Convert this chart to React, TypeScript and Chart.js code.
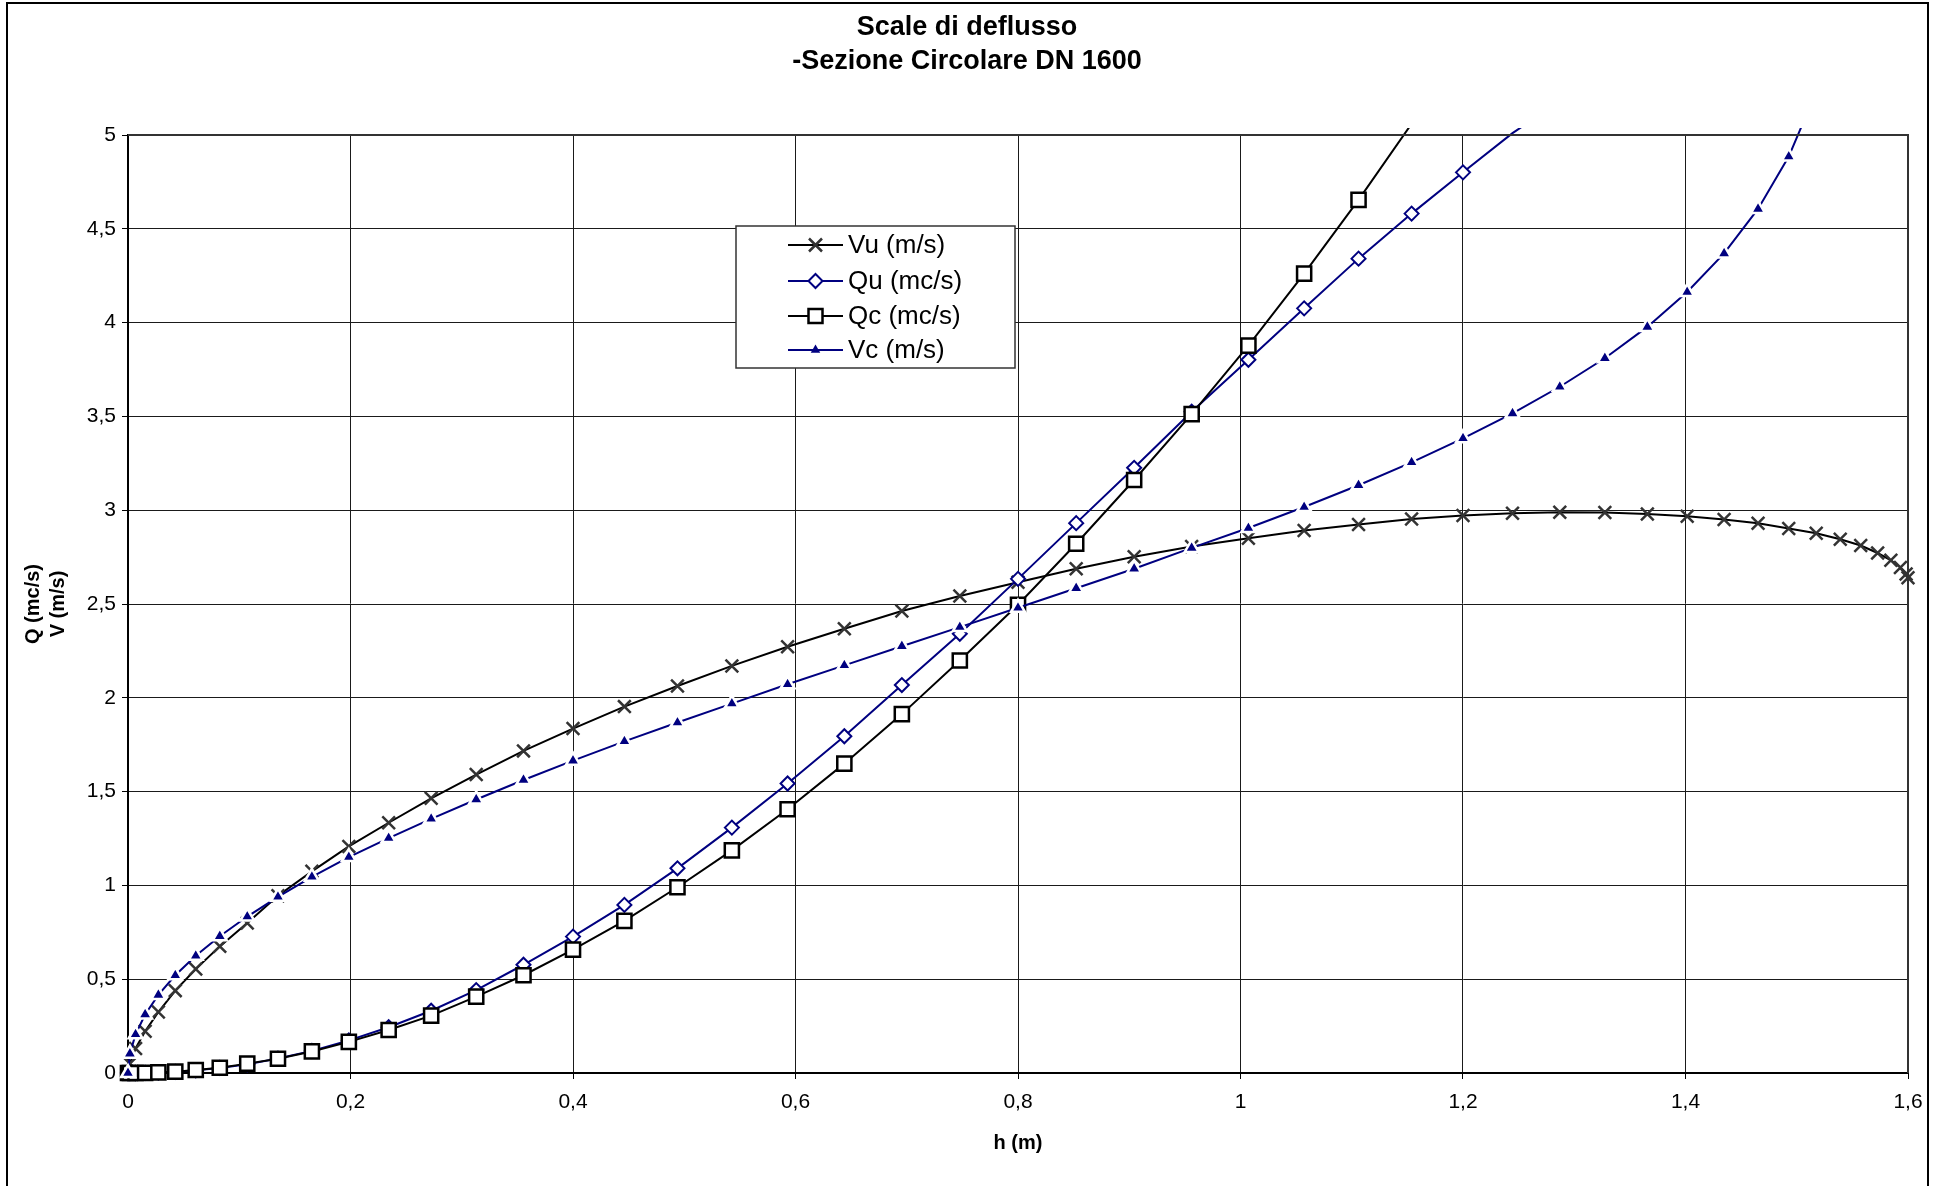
import React, { useEffect, useRef } from 'react';
import { Chart, registerables } from 'chart.js';

Chart.register(...registerables);

const titleLines = ['Scale di deflusso', '-Sezione Circolare DN 1600'];
const xAxisTitle = 'h (m)';
const yAxisTitleLines = ['Q (mc/s)', 'V (m/s)'];
const seriesNames = ['Vu (m/s)', 'Qu (mc/s)', 'Qc (mc/s)', 'Vc (m/s)'];

const xTickValues = [0, 0.2, 0.4, 0.6, 0.8, 1, 1.2, 1.4, 1.6];
const yTickValues = [0, 0.5, 1, 1.5, 2, 2.5, 3, 3.5, 4, 4.5, 5];

// h (m) : water depth of each computed point
const hValues = [
  0, 0.0017, 0.0068, 0.0154, 0.0273, 0.0425, 0.0609, 0.0825, 0.1072, 0.1348,
  0.1653, 0.1985, 0.2343, 0.2725, 0.313, 0.3555, 0.4, 0.4462, 0.4939, 0.5428,
  0.5929, 0.6439, 0.6956, 0.7477, 0.8, 0.8523, 0.9044, 0.9561, 1.0071, 1.0572,
  1.1061, 1.1538, 1.2, 1.2445, 1.287, 1.3275, 1.3657, 1.4015, 1.4347, 1.4652,
  1.4928, 1.5175, 1.5391, 1.5575, 1.5727, 1.5846, 1.5932, 1.5983, 1.6,
];

const vuValues = [
  0, 0.05, 0.131, 0.222, 0.325, 0.439, 0.554, 0.675, 0.8, 0.945,
  1.075, 1.208, 1.334, 1.464, 1.591, 1.717, 1.836, 1.953, 2.063, 2.17,
  2.272, 2.368, 2.463, 2.543, 2.616, 2.688, 2.752, 2.806, 2.85, 2.892,
  2.924, 2.953, 2.972, 2.984, 2.989, 2.988, 2.98, 2.968, 2.95, 2.93,
  2.903, 2.877, 2.845, 2.812, 2.772, 2.733, 2.695, 2.66, 2.64,
];

const quValues = [
  0, 0, 0.0001, 0.0007, 0.0024, 0.0064, 0.014, 0.027, 0.046, 0.077,
  0.118, 0.174, 0.244, 0.332, 0.442, 0.577, 0.727, 0.896, 1.091, 1.308,
  1.543, 1.795, 2.068, 2.341, 2.634, 2.931, 3.226, 3.525, 3.802, 4.076,
  4.341, 4.581, 4.801, 5.01, 5.18,
];

const qcValues = [
  0, 0, 0.0002, 0.001, 0.003, 0.007, 0.016, 0.028, 0.05, 0.076,
  0.115, 0.166, 0.229, 0.306, 0.407, 0.521, 0.658, 0.811, 0.99, 1.187,
  1.406, 1.649, 1.913, 2.199, 2.496, 2.821, 3.161, 3.512, 3.877, 4.261,
  4.654, 5.06,
];

const vcValues = [
  0, 0.103, 0.206, 0.312, 0.416, 0.521, 0.625, 0.729, 0.834, 0.939,
  1.046, 1.151, 1.252, 1.355, 1.458, 1.562, 1.665, 1.768, 1.868, 1.969,
  2.072, 2.173, 2.275, 2.377, 2.48, 2.584, 2.688, 2.799, 2.905, 3.017,
  3.133, 3.255, 3.383, 3.516, 3.658, 3.81, 3.977, 4.163, 4.369, 4.606,
  4.885, 5.23,
];

const FONT = '"Liberation Sans", Arial, Helvetica, sans-serif';
const NAVY = '#000080';
const Y_MAX = 5;

const fmt = (v: number) => String(Math.round(v * 10) / 10).replace('.', ',');
const toPoints = (ys: number[]) => ys.map((y, i) => ({ x: hValues[i], y }));
const hideAbove = (r: number) => (c: any) => (c.raw && c.raw.y > Y_MAX ? 0 : r);

function drawCross(ctx: CanvasRenderingContext2D, x: number, y: number) {
  ctx.save();
  ctx.strokeStyle = '#333';
  ctx.lineWidth = 2.5;
  const d = 6.5;
  ctx.beginPath();
  ctx.moveTo(x - d, y - d);
  ctx.lineTo(x + d, y + d);
  ctx.moveTo(x + d, y - d);
  ctx.lineTo(x - d, y + d);
  ctx.stroke();
  ctx.restore();
}
function drawDiamond(ctx: CanvasRenderingContext2D, x: number, y: number) {
  ctx.save();
  const r = 7;
  ctx.beginPath();
  ctx.moveTo(x - r, y);
  ctx.lineTo(x, y - r);
  ctx.lineTo(x + r, y);
  ctx.lineTo(x, y + r);
  ctx.closePath();
  ctx.fillStyle = '#fff';
  ctx.fill();
  ctx.strokeStyle = NAVY;
  ctx.lineWidth = 2;
  ctx.stroke();
  ctx.restore();
}
function drawSquare(ctx: CanvasRenderingContext2D, x: number, y: number) {
  ctx.save();
  const s = 7;
  ctx.fillStyle = '#fff';
  ctx.fillRect(x - s, y - s, 2 * s, 2 * s);
  ctx.strokeStyle = '#000';
  ctx.lineWidth = 2.5;
  ctx.strokeRect(x - s, y - s, 2 * s, 2 * s);
  ctx.restore();
}
function drawTriangle(ctx: CanvasRenderingContext2D, x: number, y: number) {
  ctx.save();
  const r = 5.5;
  ctx.beginPath();
  ctx.moveTo(x, y - r);
  ctx.lineTo(x + r * 0.866, y + r * 0.5);
  ctx.lineTo(x - r * 0.866, y + r * 0.5);
  ctx.closePath();
  ctx.fillStyle = NAVY;
  ctx.fill();
  ctx.restore();
}

const decorPlugin = {
  id: 'decor',
  beforeDraw(chart: any) {
    const ctx = chart.ctx as CanvasRenderingContext2D;
    ctx.save();
    ctx.fillStyle = '#fff';
    ctx.fillRect(0, 0, chart.width, chart.height);
    ctx.restore();
  },
  afterDraw(chart: any) {
    const ctx = chart.ctx as CanvasRenderingContext2D;
    const a = chart.chartArea;
    ctx.save();

    // plot area top & right border
    ctx.strokeStyle = '#333';
    ctx.lineWidth = 2;
    ctx.beginPath();
    ctx.moveTo(a.left, a.top);
    ctx.lineTo(a.right, a.top);
    ctx.lineTo(a.right, a.bottom);
    ctx.stroke();

    // chart outer border
    ctx.strokeStyle = '#000';
    ctx.lineWidth = 2;
    ctx.strokeRect(7, 3, 1921, 1200);

    // title
    ctx.fillStyle = '#000';
    ctx.textAlign = 'center';
    ctx.textBaseline = 'middle';
    ctx.font = `bold 27px ${FONT}`;
    ctx.fillText(titleLines[0], 967, 28);
    ctx.fillText(titleLines[1], 967, 62);

    // x axis title
    ctx.font = `bold 20px ${FONT}`;
    ctx.fillText(xAxisTitle, (a.left + a.right) / 2, 1143);

    // y axis title (rotated)
    ctx.font = `bold 20px ${FONT}`;
    const yc = (a.top + a.bottom) / 2;
    [33, 58].forEach((x, i) => {
      ctx.save();
      ctx.translate(x, yc);
      ctx.rotate(-Math.PI / 2);
      ctx.fillText(yAxisTitleLines[i], 0, 0);
      ctx.restore();
    });

    // legend
    const lx = 736, ly = 226, lw = 279, lh = 142;
    ctx.fillStyle = '#fff';
    ctx.fillRect(lx, ly, lw, lh);
    ctx.strokeStyle = '#333';
    ctx.lineWidth = 1.5;
    ctx.strokeRect(lx, ly, lw, lh);
    const rows = [245, 281, 316, 350];
    const lineColors = ['#000', NAVY, '#000', NAVY];
    const markers = [drawCross, drawDiamond, drawSquare, drawTriangle];
    rows.forEach((ry, i) => {
      ctx.strokeStyle = lineColors[i];
      ctx.lineWidth = 2;
      ctx.beginPath();
      ctx.moveTo(788, ry);
      ctx.lineTo(843, ry);
      ctx.stroke();
      markers[i](ctx, 815.5, ry);
      ctx.fillStyle = '#000';
      ctx.textAlign = 'left';
      ctx.textBaseline = 'middle';
      ctx.font = `26px ${FONT}`;
      ctx.fillText(seriesNames[i], 848, ry + 1);
    });

    ctx.restore();
  },
};

export default function App() {
  const canvasRef = useRef<HTMLCanvasElement | null>(null);

  useEffect(() => {
    const canvas = canvasRef.current;
    if (!canvas) return;
    const clip = { left: 12, top: 7, right: 12, bottom: 12 };
    const chart = new Chart(canvas, {
      type: 'line',
      data: {
        datasets: [
          {
            label: seriesNames[0],
            data: toPoints(vuValues),
            borderColor: '#000',
            borderWidth: 2,
            pointStyle: 'crossRot',
            pointRadius: hideAbove(9),
            pointBorderColor: '#333',
            pointBorderWidth: 2.5,
            pointBackgroundColor: 'transparent',
            tension: 0,
            clip,
            order: 3,
          },
          {
            label: seriesNames[1],
            data: toPoints(quValues),
            borderColor: NAVY,
            borderWidth: 2,
            pointStyle: 'rectRot',
            pointRadius: hideAbove(7),
            pointBorderColor: NAVY,
            pointBorderWidth: 2,
            pointBackgroundColor: '#fff',
            tension: 0,
            clip,
            order: 2,
          },
          {
            label: seriesNames[2],
            data: toPoints(qcValues),
            borderColor: '#000',
            borderWidth: 2,
            pointStyle: 'rect',
            pointRadius: hideAbove(10),
            pointBorderColor: '#000',
            pointBorderWidth: 2.5,
            pointBackgroundColor: '#fff',
            tension: 0,
            clip,
            order: 1,
          },
          {
            label: seriesNames[3],
            data: toPoints(vcValues),
            borderColor: NAVY,
            borderWidth: 2,
            pointStyle: 'triangle',
            pointRadius: hideAbove(8),
            pointBorderColor: '#fff',
            pointBorderWidth: 2.5,
            pointBackgroundColor: NAVY,
            tension: 0,
            clip,
            order: 0,
          },
        ],
      },
      options: {
        responsive: false,
        animation: false,
        devicePixelRatio: 1,
        layout: { padding: { left: 0, top: 135, right: 33, bottom: 0 } },
        plugins: {
          legend: { display: false },
          title: { display: false },
          tooltip: { enabled: false },
        },
        scales: {
          x: {
            type: 'linear',
            min: 0,
            max: 1.6,
            afterBuildTicks: (axis: any) => {
              axis.ticks = xTickValues.map((v) => ({ value: v }));
            },
            afterFit: (scale: any) => {
              scale.height = 113;
            },
            ticks: {
              callback: (v: any) => fmt(Number(v)),
              color: '#000',
              font: { family: FONT, size: 21 },
              padding: 11,
              maxRotation: 0,
              autoSkip: false,
            },
            grid: { color: '#1a1a1a', lineWidth: 1, tickLength: 6, tickColor: '#000' },
            border: { color: '#000', width: 2 },
          },
          y: {
            type: 'linear',
            min: 0,
            max: Y_MAX,
            afterBuildTicks: (axis: any) => {
              axis.ticks = yTickValues.map((v) => ({ value: v }));
            },
            afterFit: (scale: any) => {
              scale.width = 128;
            },
            ticks: {
              callback: (v: any) => fmt(Number(v)),
              color: '#000',
              font: { family: FONT, size: 21 },
              padding: 6,
              autoSkip: false,
            },
            grid: { color: '#1a1a1a', lineWidth: 1, tickLength: 6, tickColor: '#000' },
            border: { color: '#000', width: 2 },
          },
        },
      },
      plugins: [decorPlugin],
    } as any);
    return () => chart.destroy();
  }, []);

  return (
    <div style={{ position: 'fixed', left: 0, top: 0, width: 1941, height: 1186, background: '#fff' }}>
      <canvas ref={canvasRef} width={1941} height={1186} style={{ display: 'block', width: 1941, height: 1186 }} />
    </div>
  );
}
